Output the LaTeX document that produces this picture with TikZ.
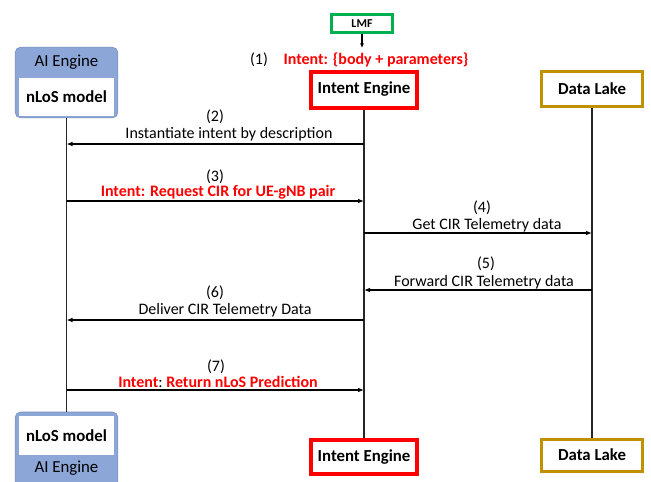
\documentclass[tikz,border=0pt]{standalone}
\usepackage{fontspec}
\setmainfont{Carlito}
\usetikzlibrary{arrows.meta,positioning}
\definecolor{lmfgreen}{RGB}{0,176,80}
\definecolor{lakegold}{RGB}{191,144,0}
\definecolor{aiblue}{RGB}{140,166,216}
\definecolor{iered}{RGB}{255,0,0}

\begin{document}
\begin{tikzpicture}[
  x=0.75pt, y=-0.75pt,
  font=\fontsize{12}{14}\selectfont,
  engine/.style={
    rectangle, draw=iered, line width=3pt, fill=white,
    minimum width=79.5pt, minimum height=27pt, font=\fontsize{12.6}{14}\selectfont\bfseries
  },
  lake/.style={
    rectangle, draw=lakegold, line width=2.25pt, fill=white,
    minimum width=76pt, minimum height=26pt, font=\fontsize{12.6}{14}\selectfont\bfseries
  },
  lmfbox/.style={
    rectangle, draw=lmfgreen, line width=2.25pt, fill=white,
    minimum width=46pt, minimum height=14pt, inner sep=1pt, font=\fontsize{9}{10}\selectfont\bfseries
  },
  aigroup/.style={
    rectangle, rounded corners=4pt, draw=aiblue!85!black, line width=0.4pt, fill=aiblue,
    minimum width=77pt
  },
  aimodel/.style={
    rectangle, fill=white, minimum width=71pt, minimum height=28.5pt,
    font=\fontsize{12.6}{14}\selectfont\bfseries
  },
  aihead/.style={font=\fontsize{12.6}{14}\selectfont},
  life/.style={line width=1.1pt, black!85},
  msg/.style={-{Latex[length=4.5pt, width=3.5pt]}, line width=1.5pt},
  num/.style={inner sep=0pt},
  say/.style={inner sep=0pt},
  hot/.style={inner sep=0pt, text=iered, font=\fontsize{12}{14}\selectfont\bfseries},
]
\useasboundingbox (0,0) rectangle (651,482);

% ── Participants (top) ──
\node[lmfbox] (lmf) at (362,23.5) {LMF};
\node[engine] (ieTop) at (364,89.5) {Intent Engine};
\node[lake] (dlTop) at (592,89) {Data Lake};
\node[aigroup, minimum height=53pt] (aiTop) at (66.5,82.5) {};
\node[aimodel] (aiTopModel) at (66.5,97) {nLoS model};
\node[aihead] (aiTopHead) at (66.5,62) {AI Engine};

% ── Participants (bottom) ──
\node[engine, minimum height=26pt] (ieBot) at (364,457) {Intent Engine};
\node[lake, minimum height=24pt] (dlBot) at (592,455) {Data Lake};
\node[aigroup, minimum height=60pt] (aiBot) at (66.5,452) {};
\node[aimodel, minimum height=29pt] (aiBotModel) at (66.5,435.5) {nLoS model};
\node[aihead] (aiBotHead) at (66.5,468) {AI Engine};

% ── Lifelines ──
\draw[life] (aiTop.south) -- (aiBot.north);
\draw[life] (ieTop.south) -- (ieBot.north);
\draw[life] (dlTop.south) -- (dlBot.north);

% ── (1) incoming intent ──
\coordinate (lmfIn) at (lmf.south |- 0,48);
\draw[-{Latex[length=3.5pt, width=3pt]}, line width=0.8pt] (lmf.south) -- (lmfIn);
\node[num] (n1) at (259,60) {(1)};
\node[hot] (t1) at (376,60) {Intent: \{body + parameters\}};

% ── Messages ──
\coordinate (ai2) at (aiTop.south |- 0,144);
\coordinate (ie2) at (ieTop.south |- 0,144);
\draw[msg] (ie2) -- (ai2);
\node[num] (n2) at (215,117) {(2)};
\node[say] (t2) at (229,134) {Instantiate intent by description};

\coordinate (ai3) at (aiTop.south |- 0,201);
\coordinate (ie3) at (ieTop.south |- 0,201);
\draw[msg] (ai3) -- (ie3);
\node[num] (n3) at (215,177) {(3)};
\node[hot] (t3) at (218,192) {Intent: Request CIR for UE-gNB pair};

\coordinate (ie4) at (ieTop.south |- 0,233);
\coordinate (dl4) at (dlTop.south |- 0,233);
\draw[msg] (ie4) -- (dl4);
\node[num] (n4) at (482,208) {(4)};
\node[say] (t4) at (487,225) {Get CIR Telemetry data};

\coordinate (dl5) at (dlTop.south |- 0,290);
\coordinate (ie5) at (ieTop.south |- 0,290);
\draw[msg] (dl5) -- (ie5);
\node[num] (n5) at (486,264) {(5)};
\node[say] (t5) at (484,282) {Forward CIR Telemetry data};

\coordinate (ie6) at (ieTop.south |- 0,320);
\coordinate (ai6) at (aiTop.south |- 0,320);
\draw[msg] (ie6) -- (ai6);
\node[num] (n6) at (215,293) {(6)};
\node[say] (t6) at (225,310) {Deliver CIR Telemetry Data};

\coordinate (ai7) at (aiTop.south |- 0,390);
\coordinate (ie7) at (ieTop.south |- 0,390);
\draw[msg] (ai7) -- (ie7);
\node[num] (n7) at (216,367) {(7)};
\node[say] (t7) at (218,382) {{\color{iered}\bfseries Intent}:~{\color{iered}\bfseries Return nLoS Prediction}};
\end{tikzpicture}
\end{document}
